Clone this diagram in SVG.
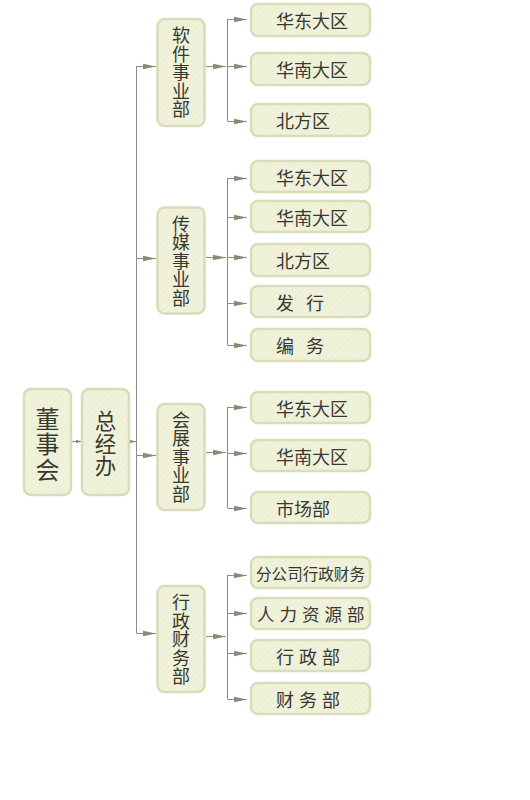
<svg xmlns="http://www.w3.org/2000/svg" width="530" height="800" viewBox="0 0 530 800">
<defs>
<pattern id="hatch" width="4" height="4" patternUnits="userSpaceOnUse" patternTransform="rotate(45)">
<rect width="4" height="4" fill="#eef0d6"/>
<line x1="0" y1="0" x2="0" y2="4" stroke="#f5f6e6" stroke-width="1.5"/>
</pattern>
<marker id="ah" markerUnits="userSpaceOnUse" markerWidth="14" markerHeight="7" refX="13" refY="3.5" orient="auto">
<path d="M0,0.8 L13,3.5 L0,6.2 z" fill="#878c74"/>
</marker>
<marker id="ahs" markerUnits="userSpaceOnUse" markerWidth="7" markerHeight="5" refX="6" refY="2.5" orient="auto">
<path d="M0,0.8 L6,2.5 L0,4.2 z" fill="#878c74"/>
</marker>
</defs>
<style>
.box{fill:url(#hatch);stroke:#d9dcb8;stroke-width:2.5}
.t{font-family:"Noto Sans CJK SC","Noto Sans",sans-serif;fill:#383832;dominant-baseline:central}
.v{font-family:"Noto Sans CJK SC","Noto Sans",sans-serif;fill:#383832;writing-mode:vertical-rl;text-anchor:middle}
.leaf{font-size:18px}
.dept{font-size:18px;letter-spacing:0.5px}
.ln{stroke:#8c8c86;stroke-width:1;fill:none}
.ar{stroke:#8c8c86;stroke-width:1;fill:none;marker-end:url(#ah)}
.as{stroke:#8c8c86;stroke-width:1;fill:none;marker-end:url(#ahs)}
</style>
<rect width="530" height="800" fill="#ffffff"/>

<g id="connectors">
<line class="as" x1="72" y1="441.5" x2="82" y2="441.5"/>
<line class="as" x1="130" y1="441.5" x2="136" y2="441.5"/>
<line class="ln" x1="136.5" y1="66" x2="136.5" y2="633"/>
<line class="ar" x1="136.5" y1="66.5" x2="156" y2="66.5"/>
<line class="ar" x1="136.5" y1="258.5" x2="156" y2="258.5"/>
<line class="ar" x1="136.5" y1="455.5" x2="156" y2="455.5"/>
<line class="ar" x1="136.5" y1="633.5" x2="156" y2="633.5"/>
<line class="ar" x1="206" y1="66.5" x2="226" y2="66.5"/>
<line class="ar" x1="206" y1="257.5" x2="226" y2="257.5"/>
<line class="ar" x1="206" y1="452.5" x2="226" y2="452.5"/>
<line class="ar" x1="206" y1="636.5" x2="226" y2="636.5"/>
<line class="ln" x1="227.5" y1="19" x2="227.5" y2="121"/>
<line class="ln" x1="227.5" y1="178" x2="227.5" y2="345"/>
<line class="ln" x1="227.5" y1="407" x2="227.5" y2="508"/>
<line class="ln" x1="227.5" y1="575" x2="227.5" y2="699"/>
<line class="ar" x1="227.5" y1="19.5" x2="247" y2="19.5"/>
<line class="ar" x1="227.5" y1="66.5" x2="247" y2="66.5"/>
<line class="ar" x1="227.5" y1="121.5" x2="247" y2="121.5"/>
<line class="ar" x1="227.5" y1="178.5" x2="247" y2="178.5"/>
<line class="ar" x1="227.5" y1="217.5" x2="247" y2="217.5"/>
<line class="ar" x1="227.5" y1="257.5" x2="247" y2="257.5"/>
<line class="ar" x1="227.5" y1="303.5" x2="247" y2="303.5"/>
<line class="ar" x1="227.5" y1="345.5" x2="247" y2="345.5"/>
<line class="ar" x1="227.5" y1="407.5" x2="247" y2="407.5"/>
<line class="ar" x1="227.5" y1="453.5" x2="247" y2="453.5"/>
<line class="ar" x1="227.5" y1="508.5" x2="247" y2="508.5"/>
<line class="ar" x1="227.5" y1="575.5" x2="247" y2="575.5"/>
<line class="ar" x1="227.5" y1="613.5" x2="247" y2="613.5"/>
<line class="ar" x1="227.5" y1="653.5" x2="247" y2="653.5"/>
<line class="ar" x1="227.5" y1="699.5" x2="247" y2="699.5"/>
</g>

<g id="dongshihui">
<rect class="box" x="24" y="389" width="47" height="106" rx="7"/>
<text class="v" font-size="24" letter-spacing="1.5" x="47.5" y="445">董事会</text>
</g>
<g id="zongjingban">
<rect class="box" x="82" y="389" width="47" height="106" rx="7"/>
<text class="v" font-size="21.5" letter-spacing="1" x="105.5" y="444">总经办</text>
</g>

<g id="dept-ruanjian">
<rect class="box" x="157.5" y="19" width="47" height="107" rx="7"/>
<text class="v dept" x="181" y="72.5">软件事业部</text>
</g>
<g id="dept-chuanmei">
<rect class="box" x="157.5" y="207.5" width="47" height="106" rx="7"/>
<text class="v dept" x="181" y="261">传媒事业部</text>
</g>
<g id="dept-huizhan">
<rect class="box" x="157.5" y="404" width="47" height="106" rx="7"/>
<text class="v dept" x="181" y="457">会展事业部</text>
</g>
<g id="dept-xingzheng">
<rect class="box" x="157.5" y="586" width="47" height="106" rx="7"/>
<text class="v dept" x="181" y="639.5">行政财务部</text>
</g>

<g id="rj-huadong"><rect class="box" x="251" y="4" width="119" height="32" rx="7"/><text class="t leaf" x="276" y="20">华东大区</text></g>
<g id="rj-huanan"><rect class="box" x="251" y="53" width="119" height="32" rx="7"/><text class="t leaf" x="276" y="69">华南大区</text></g>
<g id="rj-beifang"><rect class="box" x="251" y="104" width="119" height="32" rx="7"/><text class="t leaf" x="276" y="120">北方区</text></g>

<g id="cm-huadong"><rect class="box" x="251" y="161" width="119" height="31" rx="7"/><text class="t leaf" x="276" y="176.5">华东大区</text></g>
<g id="cm-huanan"><rect class="box" x="251" y="201" width="119" height="31" rx="7"/><text class="t leaf" x="276" y="216.5">华南大区</text></g>
<g id="cm-beifang"><rect class="box" x="251" y="244" width="119" height="32" rx="7"/><text class="t leaf" x="276" y="260">北方区</text></g>
<g id="cm-faxing"><rect class="box" x="251" y="286" width="119" height="31" rx="7"/><text class="t leaf" x="276" y="301.5">发<tspan x="306">行</tspan></text></g>
<g id="cm-bianwu"><rect class="box" x="251" y="329" width="119" height="32" rx="7"/><text class="t leaf" x="276" y="345">编<tspan x="306">务</tspan></text></g>

<g id="hz-huadong"><rect class="box" x="251" y="392" width="119" height="31" rx="7"/><text class="t leaf" x="276" y="407.5">华东大区</text></g>
<g id="hz-huanan"><rect class="box" x="251" y="440" width="119" height="31" rx="7"/><text class="t leaf" x="276" y="455.5">华南大区</text></g>
<g id="hz-shichang"><rect class="box" x="251" y="492" width="119" height="31" rx="7"/><text class="t leaf" x="276" y="507.5">市场部</text></g>

<g id="xz-fengongsi"><rect class="box" x="251" y="557" width="119" height="31" rx="7"/><text class="t" font-size="16" x="256" y="572.5" textLength="109" lengthAdjust="spacingAndGlyphs">分公司行政财务</text></g>
<g id="xz-renli"><rect class="box" x="251" y="598" width="119" height="31" rx="7"/><text class="t" font-size="17.5" x="257" y="613.5" letter-spacing="5">人力资源部</text></g>
<g id="xz-xingzheng"><rect class="box" x="251" y="640" width="119" height="31" rx="7"/><text class="t leaf" x="276" y="655.5" letter-spacing="5">行政部</text></g>
<g id="xz-caiwu"><rect class="box" x="251" y="683" width="119" height="31" rx="7"/><text class="t leaf" x="276" y="698.5" letter-spacing="5">财务部</text></g>
</svg>
